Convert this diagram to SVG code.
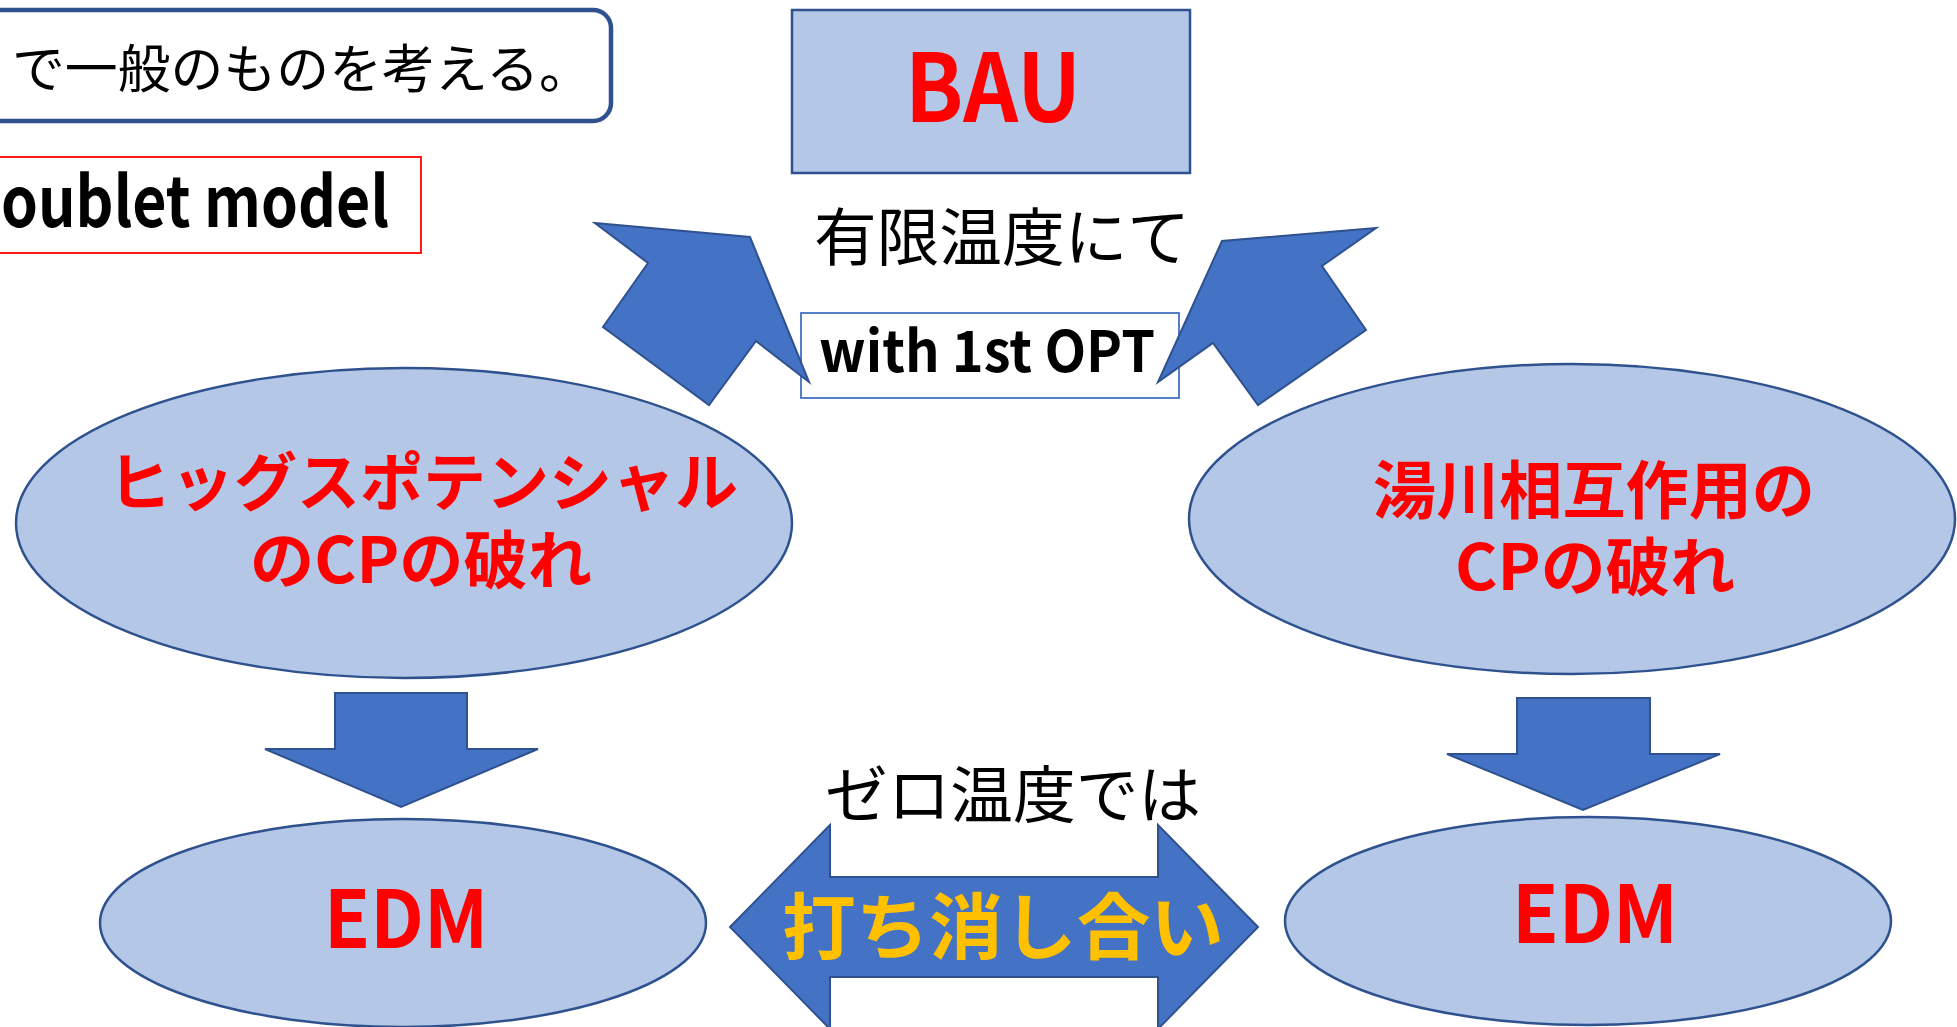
<svg xmlns="http://www.w3.org/2000/svg" width="1957" height="1027" viewBox="0 0 1957 1027">
<style>
text{font-family:"Noto Sans CJK JP","Noto Sans",sans-serif}
.blk{fill:#000;font-weight:normal}
.red{fill:#FF0000;font-weight:bold}
.bold{font-weight:bold}
.ell{fill:#B4C7E7;stroke:#2F528F;stroke-width:2.5}
.arr{fill:#4472C4;stroke:#2F528F;stroke-width:2;stroke-linejoin:miter}
</style>
<rect width="1957" height="1027" fill="#fff"/>
<g id="note-general">
<rect x="-40" y="10" width="651" height="111" rx="18" fill="#fff" stroke="#2F528F" stroke-width="4.5"/>
<text class="blk" x="12" y="88" font-size="52" textLength="580" lengthAdjust="spacingAndGlyphs">で一般のものを考える。</text>
</g>
<g id="model-label">
<rect x="-10" y="157" width="431" height="96" fill="#fff" stroke="#FF0000" stroke-width="1.8"/>
<text class="bold" x="1" y="227" font-size="70" textLength="388" lengthAdjust="spacingAndGlyphs" fill="#000">oublet model</text>
</g>
<g id="bau">
<rect x="792" y="10" width="398" height="163" fill="#B4C7E7" stroke="#2F528F" stroke-width="2.5"/>
<text class="red" x="993" y="122" font-size="94" text-anchor="middle" textLength="176" lengthAdjust="spacingAndGlyphs">BAU</text>
</g>
<g id="finite-temp">
<text class="blk" x="1002" y="260" font-size="63" text-anchor="middle" textLength="376" lengthAdjust="spacingAndGlyphs">有限温度にて</text>
</g>
<g id="opt">
<rect x="801" y="313" width="378" height="85" fill="#fff" stroke="#4472C4" stroke-width="1.8"/>
<text class="bold" x="987" y="372" font-size="57" text-anchor="middle" textLength="336" lengthAdjust="spacingAndGlyphs" fill="#000">with 1st OPT</text>
</g>
<g id="higgs-cp">
<ellipse class="ell" cx="404" cy="523" rx="388" ry="155"/>
<text class="red" font-size="63" text-anchor="middle"><tspan x="423" y="505" textLength="630" lengthAdjust="spacingAndGlyphs">ヒッグスポテンシャル</tspan><tspan x="421" y="583" textLength="342" lengthAdjust="spacingAndGlyphs">のCPの破れ</tspan></text>
</g>
<g id="yukawa-cp">
<ellipse class="ell" cx="1572" cy="519" rx="383" ry="155"/>
<text class="red" font-size="63" text-anchor="middle"><tspan x="1594" y="513" textLength="442" lengthAdjust="spacingAndGlyphs">湯川相互作用の</tspan><tspan x="1595" y="590" textLength="280" lengthAdjust="spacingAndGlyphs">CPの破れ</tspan></text>
</g>
<g id="edm-left">
<ellipse class="ell" cx="403" cy="923" rx="303" ry="104"/>
<text class="red" x="406" y="948" font-size="80" text-anchor="middle" textLength="164" lengthAdjust="spacingAndGlyphs">EDM</text>
</g>
<g id="edm-right">
<ellipse class="ell" cx="1588" cy="921" rx="303" ry="104"/>
<text class="red" x="1595" y="943" font-size="80" text-anchor="middle" textLength="166" lengthAdjust="spacingAndGlyphs">EDM</text>
</g>
<g id="zero-temp">
<text class="blk" x="1013" y="818" font-size="62" text-anchor="middle" textLength="376" lengthAdjust="spacingAndGlyphs">ゼロ温度では</text>
</g>
<g id="connectors">
<polygon class="arr" points="595,223 750,237 809,382 756,341 709,405 603,327 648,263"/>
<polygon class="arr" points="1376,228 1222,241 1158,382 1213,343 1258,405 1366,330 1322,266"/>
<polygon class="arr" points="335,693 467,693 467,749 538,749 401,807 265,749 335,749"/>
<polygon class="arr" points="1517,698 1650,698 1650,754 1720,754 1583,810 1447,754 1517,754"/>
<polygon class="arr" points="730,927 830,825 830,877 1158,877 1158,825 1258,927 1158,1029 1158,977 830,977 830,1029"/>
</g>
<g id="cancel-label">
<text class="bold" x="1003" y="953" font-size="72" text-anchor="middle" textLength="442" lengthAdjust="spacingAndGlyphs" fill="#FFC000">打ち消し合い</text>
</g>
</svg>
